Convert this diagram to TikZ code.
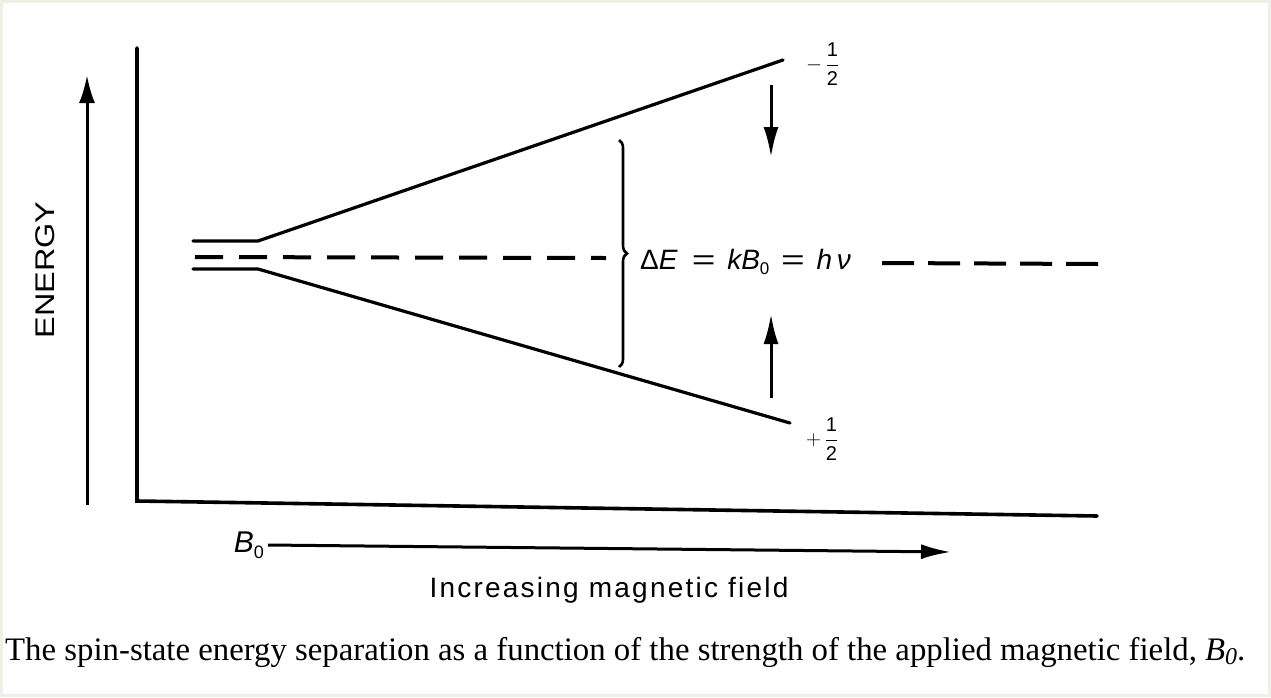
\documentclass[tikz,border=0pt]{standalone}
\usepackage{fontspec}
\setmainfont{Liberation Sans}
\newfontfamily\capfont{Liberation Serif}
\usetikzlibrary{arrows.meta,decorations.pathreplacing}
\newcommand{\wideeq}{\scalebox{1.45}[1]{=}}
\begin{document}
\begin{tikzpicture}[x=1pt,y=-1pt,
  thick line/.style={line width=3.2pt},
  big arrow/.style={line width=3pt,-{Latex[length=28pt,width=16pt]}},
  mid arrow/.style={line width=3pt,-{Latex[length=30pt,width=15pt]}},
  lab/.style={inner sep=0pt,font=\fontsize{28}{30}\selectfont},
  frac/.style={inner sep=0pt,font=\fontsize{20}{22}\selectfont}]
% frame and background
\fill[fill={rgb,255:red,240;green,238;blue,230}] (0,0) rectangle (1271,697);
\fill[white] (3,3) rectangle (1268,694);
\useasboundingbox (0,0) rectangle (1271,697);
% coordinates
\coordinate (eb) at (87,505);
\coordinate (et) at (87,75);
\coordinate (ayt) at (137,48);
\coordinate (ao) at (137,501);
\coordinate (axr) at (1097,516);
\coordinate (ul) at (193,241);
\coordinate (uk) at (258,241);
\coordinate (ue) at (783,60);
\coordinate (ll) at (193,269);
\coordinate (lk) at (258,269);
\coordinate (le) at (790,423);
\coordinate (dl) at (195,257);
\coordinate (dm) at (606,258);
\coordinate (dr1) at (882,263);
\coordinate (dr2) at (1098,264);
\coordinate (bt) at (619,140);
\coordinate (bb) at (619,367);
\coordinate (da1) at (771,85);
\coordinate (da2) at (771,157);
\coordinate (ua1) at (771,398);
\coordinate (ua2) at (771,314);
\coordinate (ba2) at (951,552);
% energy axis arrow and label
\draw[big arrow] (eb) -- (et);
\node[lab,rotate=90,font=\fontsize{27}{30}\selectfont] (energy) at (45,270) {\scalebox{1.2}[1]{ENERGY}};
% axes
\draw[line width=3.6pt,line cap=round,line join=miter] (ayt) -- (ao) -- (axr);
% energy levels
\draw[thick line,line cap=round] (ul) -- (uk) -- (ue);
\draw[thick line,line cap=round] (ll) -- (lk) -- (le);
\draw[line width=4pt,dash pattern=on 28pt off 16pt] (dl) -- (dm);
\draw[line width=4pt,dash pattern=on 32pt off 14pt] (dr1) -- (dr2);
% brace
\draw[line width=2.6pt,decorate,decoration={brace,amplitude=8pt}] (bt) -- (bb);
\node[lab,anchor=west] (eq) at (640,262) {Δ\textit{E}\hspace{0.5em}\wideeq\hspace{0.42em}\textit{kB}\raisebox{-0.35ex}{\fontsize{17}{19}\selectfont 0}\hspace{0.42em}\wideeq\hspace{0.42em}\textit{h\,ν}};
% transition arrows
\draw[mid arrow] (da1) -- (da2);
\draw[mid arrow] (ua1) -- (ua2);
% spin labels
\node[frac,anchor=west] (mhalf) at (806,64) {$\displaystyle -\,\frac{\mbox{1}}{\mbox{2}}$};
\node[frac,anchor=west] (phalf) at (806,439) {$\displaystyle +\,\frac{\mbox{1}}{\mbox{2}}$};
% field arrow
\node[lab,anchor=east,font=\fontsize{30}{32}\selectfont] (b0) at (264,545) {\textit{B}\raisebox{-0.35ex}{\fontsize{18}{19}\selectfont 0}};
\draw[line width=3pt,-{Latex[length=30pt,width=15pt]}] (b0.east) ++(4pt,0) coordinate (ba1) -- (ba2);
\node[lab,anchor=center] (inc) at (609,590) {\fontsize{28}{30}\selectfont\addfontfeatures{LetterSpace=8}Increasing magnetic field};
% caption
\node[inner sep=0pt,anchor=base west,font=\capfont\fontsize{32.8}{34}\selectfont] (cap) at (5,660)
  {The spin-state energy separation as a function of the strength of the applied magnetic field, \textit{B}\raisebox{-0.3ex}{\fontsize{24}{26}\selectfont\textit{0}}.};
\end{tikzpicture}
\end{document}
